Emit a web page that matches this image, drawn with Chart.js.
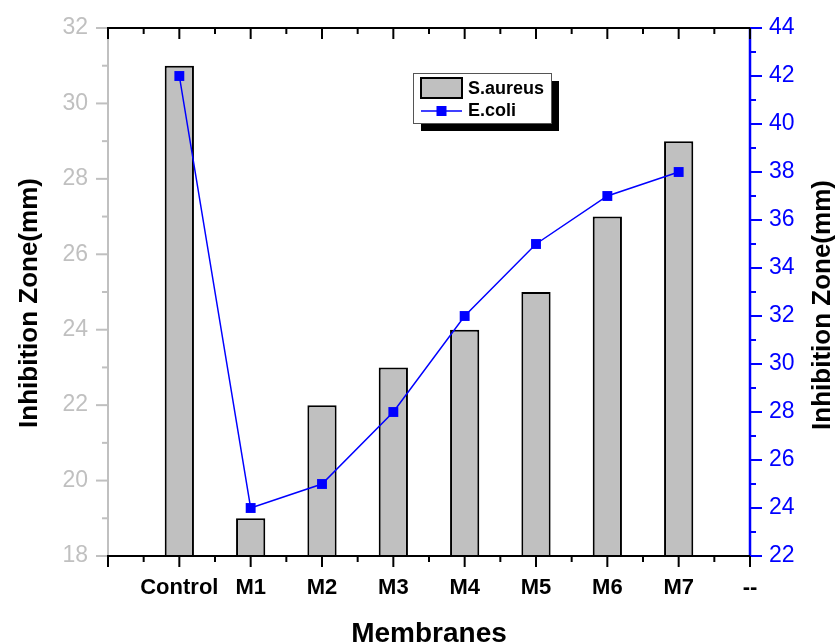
<!DOCTYPE html>
<html>
<head>
<meta charset="utf-8">
<script src="https://cdn.jsdelivr.net/npm/chart.js@4.4.0/dist/chart.umd.min.js"></script>
<style>
  html, body { margin: 0; padding: 0; background: #fff; }
</style>
</head>
<body>
<canvas id="chart" width="835" height="644"></canvas>
<script>
// data
const membranes = ['', 'Control', 'M1', 'M2', 'M3', 'M4', 'M5', 'M6', 'M7', '--'];
const saureus = [null, 31, 19, 22, 23, 24, 25, 27, 29, null];
const ecoli = [null, 42, 24, 25, 28, 32, 35, 37, 38, null];
const leftTicks = [18, 20, 22, 24, 26, 28, 30, 32];
const rightTicks = [22, 24, 26, 28, 30, 32, 34, 36, 38, 40, 42, 44];

const FONT = "'Liberation Sans', Arial, sans-serif";
const GRAY = '#c0c0c0';
const BLUE = '#0000ff';

function seg(ctx, x1, y1, x2, y2, color, w) { // draws a single line segment
    ctx.beginPath();
    ctx.strokeStyle = color;
    ctx.lineWidth = w;
    ctx.moveTo(x1, y1);
    ctx.lineTo(x2, y2);
    ctx.stroke();
}

// frame, tick marks (major + minor), axis titles and the boxed legend
const framePlugin = {
    id: 'frame',
    afterDraw(chart) {
        const { ctx, chartArea: a, scales } = chart;
        const x = scales.x, y = scales.y, y1 = scales.y1;
        ctx.save();
        ctx.lineCap = 'butt';

        // left axis (gray) with outward ticks
        seg(ctx, a.left, a.top, a.left, a.bottom, GRAY, 2);
        for (let v = leftTicks[0]; v <= leftTicks[leftTicks.length - 1]; v++) {
            const py = y.getPixelForValue(v);
            const len = leftTicks.includes(v) ? 12 : 6;
            seg(ctx, a.left - len, py, a.left, py, GRAY, 2);
        }

        // right axis (blue) with outward ticks
        seg(ctx, a.right, a.top, a.right, a.bottom, BLUE, 2.5);
        for (let v = rightTicks[0]; v <= rightTicks[rightTicks.length - 1]; v++) {
            const py = y1.getPixelForValue(v);
            const len = rightTicks.includes(v) ? 12 : 6;
            seg(ctx, a.right, py, a.right + len, py, BLUE, 2);
        }

        // top and bottom (black)
        seg(ctx, a.left - 1, a.top, a.right, a.top, '#000', 2);
        seg(ctx, a.left - 1, a.bottom, a.right, a.bottom, '#000', 2);
        for (let i = 0; i < membranes.length; i++) {
            const px = x.getPixelForValue(i);
            seg(ctx, px, a.bottom, px, a.bottom + 11, '#000', 2); // outward at bottom
            seg(ctx, px, a.top, px, a.top + 11, '#000', 2); // inward at top
            if (i < membranes.length - 1) {
                const mx = x.getPixelForValue(i + 0.5);
                seg(ctx, mx, a.bottom, mx, a.bottom + 6, '#000', 2);
                seg(ctx, mx, a.top, mx, a.top + 6, '#000', 2);
            }
        }

        // axis titles
        ctx.fillStyle = '#000';
        ctx.font = 'bold 26px ' + FONT;
        ctx.textAlign = 'center';
        ctx.textBaseline = 'alphabetic';
        const midY = (a.top + a.bottom) / 2 + 11;
        [[37, midY], [830, midY + 2]].forEach(([tx, ty]) => {
            ctx.save();
            ctx.translate(tx, ty);
            ctx.rotate(-Math.PI / 2);
            ctx.fillText('Inhibition Zone(mm)', 0, 0);
            ctx.restore();
        });
        ctx.font = 'bold 28px ' + FONT;
        ctx.fillText('Membranes', (a.left + a.right) / 2, 642);

        // legend box with drop shadow
        const bx = a.left + 305, by = a.top + 45, bw = 138, bh = 50;
        ctx.fillStyle = '#000';
        ctx.fillRect(bx + 8, by + 8, bw, bh);
        ctx.fillStyle = '#fff';
        ctx.fillRect(bx, by, bw, bh);
        ctx.strokeStyle = '#555';
        ctx.lineWidth = 1;
        ctx.strokeRect(bx + 0.5, by + 0.5, bw, bh);

        const bars = chart.data.datasets[0], line = chart.data.datasets[1];
        ctx.fillStyle = bars.backgroundColor;
        ctx.fillRect(bx + 8, by + 5, 41, 20);
        ctx.strokeStyle = bars.borderColor;
        ctx.lineWidth = 2;
        ctx.strokeRect(bx + 8, by + 5, 41, 20);
        seg(ctx, bx + 8, by + 38, bx + 49, by + 38, line.borderColor, 1.5);
        ctx.fillStyle = line.pointBackgroundColor;
        ctx.fillRect(bx + 23.5, by + 33, 10, 10);

        ctx.fillStyle = '#000';
        ctx.font = 'bold 18px ' + FONT;
        ctx.textAlign = 'left';
        ctx.fillText(bars.label, bx + 55, by + 21);
        ctx.fillText(line.label, bx + 55, by + 43);
        ctx.restore();
    }
};

function fixVertical(width) { // pins an y axis width and drops its label overflow padding
    return (s) => { s.width = width; s.paddingTop = 0; s.paddingBottom = 0; };
}

new Chart(document.getElementById('chart').getContext('2d'), {
    type: 'bar',
    data: {
        labels: membranes,
        datasets: [{
            label: 'S.aureus',
            data: saureus,
            yAxisID: 'y',
            backgroundColor: GRAY,
            borderColor: '#000',
            borderWidth: 2,
            barPercentage: 0.41,
            categoryPercentage: 1,
            order: 2
        }, {
            type: 'line',
            label: 'E.coli',
            data: ecoli,
            yAxisID: 'y1',
            borderColor: BLUE,
            borderWidth: 1.5,
            tension: 0,
            pointStyle: 'rect',
            pointRadius: 7,
            pointBorderWidth: 0,
            pointBackgroundColor: BLUE,
            pointBorderColor: BLUE,
            order: 1
        }]
    },
    options: {
        responsive: false,
        animation: false,
        layout: { padding: { top: 28, left: 0, right: 0, bottom: 0 } },
        plugins: { legend: { display: false }, tooltip: { enabled: false } },
        scales: {
            x: {
                type: 'category',
                offset: false,
                grid: { display: false, drawTicks: false },
                border: { display: false },
                ticks: {
                    autoSkip: false, maxRotation: 0, padding: 19, color: '#000',
                    font: { family: FONT, size: 22, weight: 'bold' }
                },
                afterFit: (s) => { s.height = 88; s.paddingLeft = 0; s.paddingRight = 0; }
            },
            y: {
                position: 'left',
                min: leftTicks[0],
                max: leftTicks[leftTicks.length - 1],
                grid: { display: false, drawTicks: false },
                border: { display: false },
                ticks: {
                    stepSize: leftTicks[1] - leftTicks[0], padding: 20, color: GRAY,
                    font: { family: FONT, size: 23 }
                },
                afterFit: fixVertical(108)
            },
            y1: {
                position: 'right',
                min: rightTicks[0],
                max: rightTicks[rightTicks.length - 1],
                grid: { display: false, drawTicks: false },
                border: { display: false },
                ticks: {
                    stepSize: rightTicks[1] - rightTicks[0], padding: 19, color: BLUE,
                    font: { family: FONT, size: 23 }
                },
                afterFit: fixVertical(85)
            }
        }
    },
    plugins: [framePlugin]
});
</script>
</body>
</html>
